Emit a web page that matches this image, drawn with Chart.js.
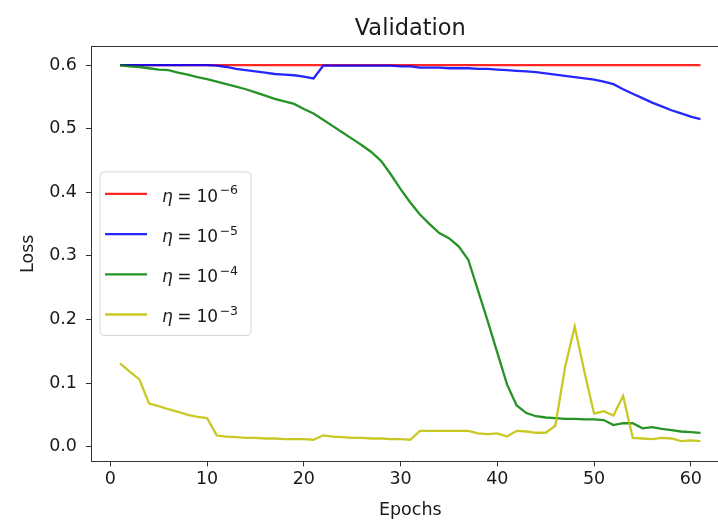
<!DOCTYPE html>
<html>
<head>
<meta charset="utf-8">
<script src="https://cdn.jsdelivr.net/npm/chart.js@4/dist/chart.umd.min.js"></script>
<style>
  html, body { margin: 0; padding: 0; background: #ffffff; overflow: hidden; }
  #wrap { width: 740px; height: 521px; }
</style>
</head>
<body>
<div id="wrap"><canvas id="c" width="740" height="521"></canvas></div>
<script>
// ---------- data ----------
const chartTitle = 'Validation';
const xTitle = 'Epochs';
const yTitle = 'Loss';
const epochs = [1,2,3,4,5,6,7,8,9,10,11,12,13,14,15,16,17,18,19,20,21,22,23,24,25,26,27,28,29,30,
  31,32,33,34,35,36,37,38,39,40,41,42,43,44,45,46,47,48,49,50,51,52,53,54,55,56,57,58,59,60,61];
const xTicks = [0, 10, 20, 30, 40, 50, 60];
const yTicks = [0.0, 0.1, 0.2, 0.3, 0.4, 0.5, 0.6];
const exponents = ['\u22126', '\u22125', '\u22124', '\u22123'];
const seriesLabels = ['η = 10⁻⁶', 'η = 10⁻⁵', 'η = 10⁻⁴', 'η = 10⁻³'];

const lossE6 = [0.600,0.600,0.600,0.600,0.600,0.600,0.600,0.600,0.600,0.600,
  0.600,0.600,0.600,0.600,0.600,0.600,0.600,0.600,0.600,0.600,
  0.600,0.600,0.600,0.600,0.600,0.600,0.600,0.600,0.600,0.600,
  0.600,0.600,0.600,0.600,0.600,0.600,0.600,0.600,0.600,0.600,
  0.600,0.600,0.600,0.600,0.600,0.600,0.600,0.600,0.600,0.600,
  0.600,0.600,0.600,0.600,0.600,0.600,0.600,0.600,0.600,0.600,0.600];
const lossE5 = [0.600,0.600,0.600,0.600,0.600,0.600,0.600,0.600,0.600,0.600,
  0.599,0.597,0.594,0.592,0.590,0.588,0.586,0.585,0.584,0.582,
  0.579,0.599,0.599,0.599,0.599,0.599,0.599,0.599,0.599,0.598,
  0.598,0.596,0.596,0.596,0.595,0.595,0.595,0.594,0.594,0.593,
  0.592,0.591,0.590,0.589,0.587,0.585,0.583,0.581,0.579,0.577,
  0.574,0.570,0.562,0.555,0.548,0.541,0.535,0.529,0.524,0.519,0.515];
const lossE4 = [0.600,0.598,0.597,0.595,0.593,0.592,0.588,0.585,0.581,0.578,
  0.574,0.570,0.566,0.562,0.557,0.552,0.547,0.543,0.539,0.531,
  0.524,0.514,0.504,0.494,0.484,0.474,0.463,0.449,0.428,0.405,
  0.384,0.365,0.350,0.336,0.328,0.315,0.294,0.246,0.198,0.148,
  0.098,0.065,0.053,0.048,0.046,0.045,0.044,0.044,0.043,0.043,
  0.042,0.034,0.037,0.037,0.029,0.031,0.028,0.026,0.024,0.023,0.022];
const lossE3 = [0.131,0.118,0.106,0.068,0.064,0.059,0.055,0.050,0.047,0.045,
  0.018,0.016,0.015,0.014,0.014,0.013,0.013,0.012,0.012,0.012,
  0.011,0.018,0.016,0.015,0.014,0.014,0.013,0.013,0.012,0.012,
  0.011,0.025,0.025,0.025,0.025,0.025,0.025,0.021,0.020,0.021,
  0.016,0.025,0.024,0.022,0.022,0.033,0.125,0.189,0.118,0.052,
  0.056,0.049,0.080,0.014,0.013,0.012,0.014,0.013,0.009,0.010,0.009];

const seriesValues = [lossE6, lossE5, lossE4, lossE3];
const seriesColors = ['rgba(255,0,0,0.85)', 'rgba(0,0,255,0.85)', 'rgba(0,128,0,0.85)', 'rgba(191,191,0,0.85)'];

// ---------- styles ----------
const FONT = "'DejaVu Sans', 'Liberation Sans', sans-serif";
const TEXT = '#1a1a1a';
const AXIS = '#333333';

const datasets = seriesValues.map((vals, i) => ({
  label: seriesLabels[i],
  data: vals.map((v, j) => ({ x: epochs[j], y: v })),
  borderColor: seriesColors[i],
  backgroundColor: seriesColors[i],
  borderWidth: 2.3,
  pointRadius: 0,
  tension: 0,
  fill: false,
  order: seriesValues.length - 1 - i
}));

// top spine
const framePlugin = {
  id: 'frame',
  afterDraw(chart) {
    const { ctx, chartArea: a } = chart;
    ctx.save();
    ctx.strokeStyle = AXIS;
    ctx.lineWidth = 1;
    ctx.beginPath();
    ctx.moveTo(a.left, Math.round(a.top) + 0.5);
    ctx.lineTo(a.right, Math.round(a.top) + 0.5);
    ctx.stroke();
    ctx.restore();
  }
};

// matplotlib-like legend drawn inside the plot area
const mplLegend = {
  id: 'mplLegend',
  afterDatasetsDraw(chart) {
    const { ctx, chartArea: a } = chart;
    const ds = chart.data.datasets;
    const rowH = 40.2;
    const padT = 22, padB = 21;
    const h = padT + padB + rowH * (ds.length - 1);
    const w = 151;
    const x0 = a.left + 9;
    const cy = (a.top + a.bottom) / 2;
    const y0 = cy - h / 2;
    ctx.save();
    const r = 4;
    ctx.beginPath();
    ctx.moveTo(x0 + r, y0);
    ctx.lineTo(x0 + w - r, y0);
    ctx.quadraticCurveTo(x0 + w, y0, x0 + w, y0 + r);
    ctx.lineTo(x0 + w, y0 + h - r);
    ctx.quadraticCurveTo(x0 + w, y0 + h, x0 + w - r, y0 + h);
    ctx.lineTo(x0 + r, y0 + h);
    ctx.quadraticCurveTo(x0, y0 + h, x0, y0 + h - r);
    ctx.lineTo(x0, y0 + r);
    ctx.quadraticCurveTo(x0, y0, x0 + r, y0);
    ctx.closePath();
    ctx.fillStyle = 'rgba(255,255,255,0.8)';
    ctx.fill();
    ctx.strokeStyle = '#d6d6d6';
    ctx.lineWidth = 1;
    ctx.stroke();

    ds.forEach((d, i) => {
      const ry = y0 + padT + rowH * i;
      ctx.strokeStyle = d.borderColor;
      ctx.lineWidth = 2.3;
      ctx.beginPath();
      ctx.moveTo(x0 + 5, ry);
      ctx.lineTo(x0 + 47, ry);
      ctx.stroke();
      const base = ry + 7.7;
      let tx = x0 + 62;
      ctx.fillStyle = TEXT;
      ctx.textBaseline = 'alphabetic';
      ctx.textAlign = 'left';
      ctx.font = "italic 17px " + FONT;
      ctx.fillText('η', tx, base);
      tx += ctx.measureText('η').width + 4.5;
      ctx.font = "17px " + FONT;
      ctx.fillText('=', tx, base);
      tx += ctx.measureText('=').width + 5;
      ctx.fillText('10', tx, base);
      tx += ctx.measureText('10').width + 1.5;
      ctx.font = "12.5px " + FONT;
      ctx.fillText(exponents[i], tx, ry + 0.5);
    });
    ctx.restore();
  }
};

new Chart(document.getElementById('c'), {
  type: 'line',
  data: { datasets },
  options: {
    responsive: false,
    animation: false,
    devicePixelRatio: 1,
    layout: { padding: { left: 0, right: 10.5, top: 0, bottom: 0 } },
    plugins: {
      legend: { display: false },
      tooltip: { enabled: false },
      title: {
        display: true,
        text: chartTitle,
        fullSize: false,
        color: TEXT,
        font: { family: FONT, size: 22.5, weight: 'normal', lineHeight: 1.2 },
        padding: { top: 15.5, bottom: 3.5 }
      }
    },
    scales: {
      x: {
        type: 'linear',
        min: -2,
        max: 64,
        afterFit: s => { s.height = 59.6; },
        afterBuildTicks: s => { s.ticks = xTicks.map(v => ({ value: v })); },
        ticks: {
          includeBounds: false,
          autoSkip: false,
          maxRotation: 0,
          color: TEXT,
          padding: 3,
          font: { family: FONT, size: 17.5 },
          callback: v => String(v)
        },
        grid: { display: true, drawOnChartArea: false, drawTicks: true, tickLength: 5, color: AXIS, tickWidth: 1 },
        border: { display: true, color: AXIS, width: 1 },
        title: {
          display: true,
          text: xTitle,
          color: TEXT,
          font: { family: FONT, size: 17.5, lineHeight: 1.2 },
          padding: { top: 0, bottom: 0 }
        }
      },
      y: {
        type: 'linear',
        min: -0.023,
        max: 0.630,
        afterFit: s => { s.width = 91; },
        afterBuildTicks: s => { s.ticks = yTicks.map(v => ({ value: v })); },
        ticks: {
          includeBounds: false,
          autoSkip: false,
          color: TEXT,
          padding: 9,
          font: { family: FONT, size: 17.5 },
          callback: v => Number(v).toFixed(1)
        },
        grid: { display: true, drawOnChartArea: false, drawTicks: true, tickLength: 5, color: AXIS, tickWidth: 1 },
        border: { display: true, color: AXIS, width: 1 },
        title: {
          display: true,
          text: yTitle,
          color: TEXT,
          font: { family: FONT, size: 17.5, lineHeight: 1.2 },
          padding: { top: 17.5, bottom: 0 }
        }
      }
    }
  },
  plugins: [framePlugin, mplLegend]
});
</script>
</body>
</html>
